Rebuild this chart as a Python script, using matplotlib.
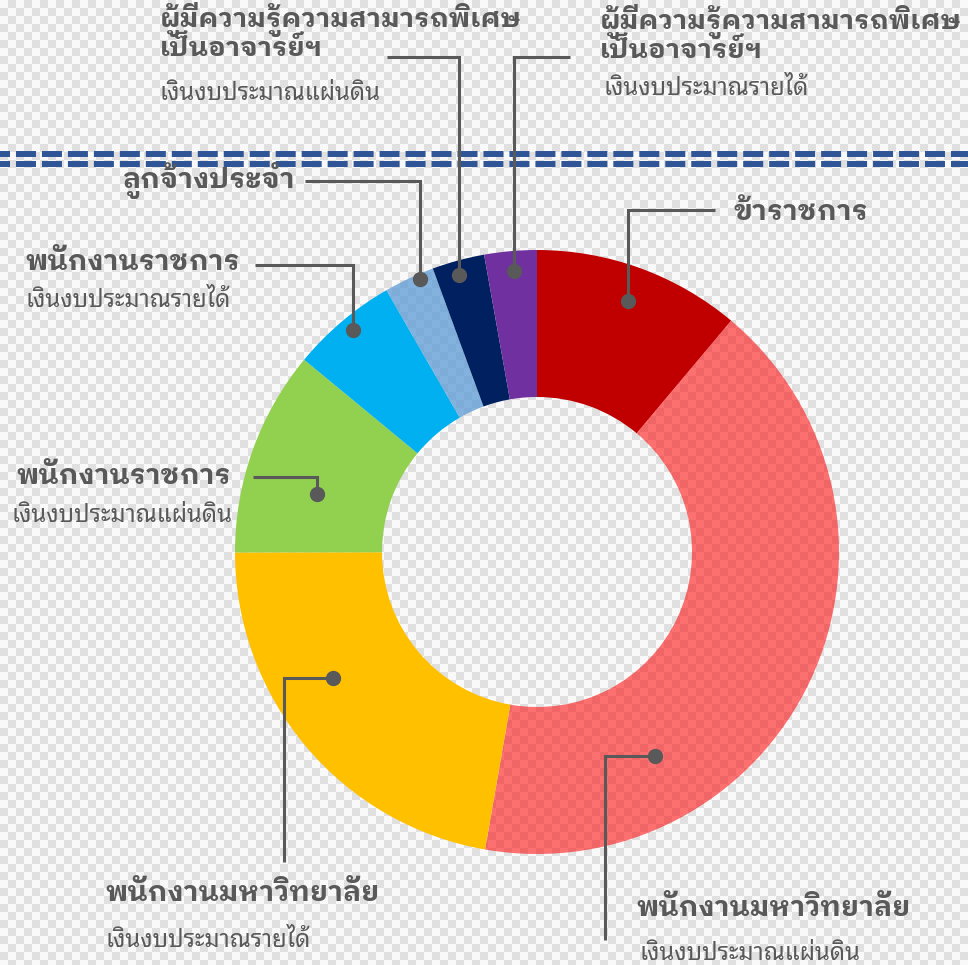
import matplotlib
matplotlib.use("Agg")
import matplotlib.pyplot as plt
import numpy as np

plt.rcParams['lines.scale_dashes'] = False

W, H = 968, 965

# ---- data (share of personnel, %) ----
categories = ["ข้าราชการ",
              "พนักงานมหาวิทยาลัย (เงินงบประมาณแผ่นดิน)",
              "พนักงานมหาวิทยาลัย (เงินงบประมาณรายได้)",
              "พนักงานราชการ (เงินงบประมาณแผ่นดิน)",
              "พนักงานราชการ (เงินงบประมาณรายได้)",
              "ลูกจ้างประจำ",
              "ผู้มีความรู้ความสามารถพิเศษเป็นอาจารย์ฯ (เงินงบประมาณแผ่นดิน)",
              "ผู้มีความรู้ความสามารถพิเศษเป็นอาจารย์ฯ (เงินงบประมาณรายได้)"]
values = [11.1, 41.6, 22.2, 11.0, 5.7, 2.7, 2.8, 2.8]
colors = ["#c00000", (1.0, 0.0, 0.0, 0.55), "#ffc000", "#92d050", "#00b0f0",
          (0.357, 0.608, 0.835, 0.75), "#002060", "#7030a0"]
titles = ["ข้าราชการ", "พนักงานมหาวิทยาลัย", "พนักงานมหาวิทยาลัย", "พนักงานราชการ",
          "พนักงานราชการ", "ลูกจ้างประจำ",
          "ผู้มีความรู้ความสามารถพิเศษ\nเป็นอาจารย์ฯ", "ผู้มีความรู้ความสามารถพิเศษ\nเป็นอาจารย์ฯ"]
subtitles = ["", "เงินงบประมาณแผ่นดิน", "เงินงบประมาณรายได้", "เงินงบประมาณแผ่นดิน",
             "เงินงบประมาณรายได้", "", "เงินงบประมาณแผ่นดิน", "เงินงบประมาณรายได้"]

# ---- layout (pixel coordinates, origin top-left) ----
center_px = (537, 552)
r_out, ring_w = 302, 147
leaders = [[(628, 301), (628, 210), (715, 210)],
           [(655, 756), (605, 756), (605, 940)],
           [(333, 678), (284, 678), (284, 862)],
           [(317, 494), (317, 477), (253, 477)],
           [(353, 330), (353, 265), (255, 265)],
           [(420, 279), (420, 181), (305, 181)],
           [(459, 275), (459, 57), (387, 57)],
           [(514, 271), (514, 57), (570, 57)]]
title_pos = [(733, 220, 'left'), (636, 916, 'left'), (105, 901, 'left'), (231, 484, 'right'),
             (25, 270, 'left'), (295, 188, 'right'), (160, 27, 'left'), (600, 29, 'left')]
sub_pos = [None, (640, 960, 'left'), (105, 947, 'left'), (233, 522, 'right'),
           (25, 307, 'left'), None, (160, 100, 'left'), (603, 95, 'left')]

txt_col = "#595959"
bold_font = ["IBM Plex Sans Thai Looped", "DejaVu Sans"]
reg_font = ["Noto Sans Thai Looped", "DejaVu Sans"]

def Y(y):
    return H - y

fig = plt.figure(figsize=(W / 100, H / 100), dpi=100)
ax = fig.add_axes([0, 0, 1, 1])

# checkerboard background
cell = 8
yy, xx = np.mgrid[0:H, 0:W]
chk = ((xx // cell + yy // cell) % 2).astype(float)
bg = np.where(chk[..., None] == 1, np.array([0.88, 0.88, 0.88]), np.array([0.98, 0.98, 0.98]))
ax.imshow(bg, extent=(0, W, 0, H), origin='upper', zorder=0, interpolation='nearest')

# double dashed line
for yl in (154, 164):
    ax.plot([0, W], [Y(yl), Y(yl)], color="#2f5597", lw=4.3, dash_capstyle='butt',
            linestyle=(7.2, (14.4, 4.3)), zorder=2)

# donut
ax.pie(values, colors=colors, startangle=90, counterclock=False, radius=r_out,
       center=(center_px[0], Y(center_px[1])),
       wedgeprops=dict(width=ring_w, linewidth=0), frame=True)

# leaders and labels
for i in range(len(values)):
    pts = leaders[i]
    ax.plot([p[0] for p in pts], [Y(p[1]) for p in pts], color=txt_col, lw=2.2, zorder=4,
            solid_capstyle='butt', solid_joinstyle='miter')
    ax.plot([pts[0][0]], [Y(pts[0][1])], 'o', color=txt_col, ms=10, zorder=5)
    tx, ty, ha = title_pos[i]
    lines = titles[i].split("\n")
    fs = 20.3 if len(lines) == 1 else 19.6
    for k, ln in enumerate(lines):
        ax.text(tx, Y(ty + 29 * k), ln, ha=ha, va='baseline', fontsize=fs,
                family=bold_font, fontweight='bold', color=txt_col, zorder=6)
    if sub_pos[i] is not None:
        sx, sy, sha = sub_pos[i]
        ax.text(sx, Y(sy), subtitles[i], ha=sha, va='baseline', fontsize=17.2,
                family=reg_font, color=txt_col, zorder=6)

ax.set_xlim(0, W)
ax.set_ylim(0, H)
ax.set_aspect('auto')
ax.axis('off')
fig.savefig("out.png", dpi=100)
